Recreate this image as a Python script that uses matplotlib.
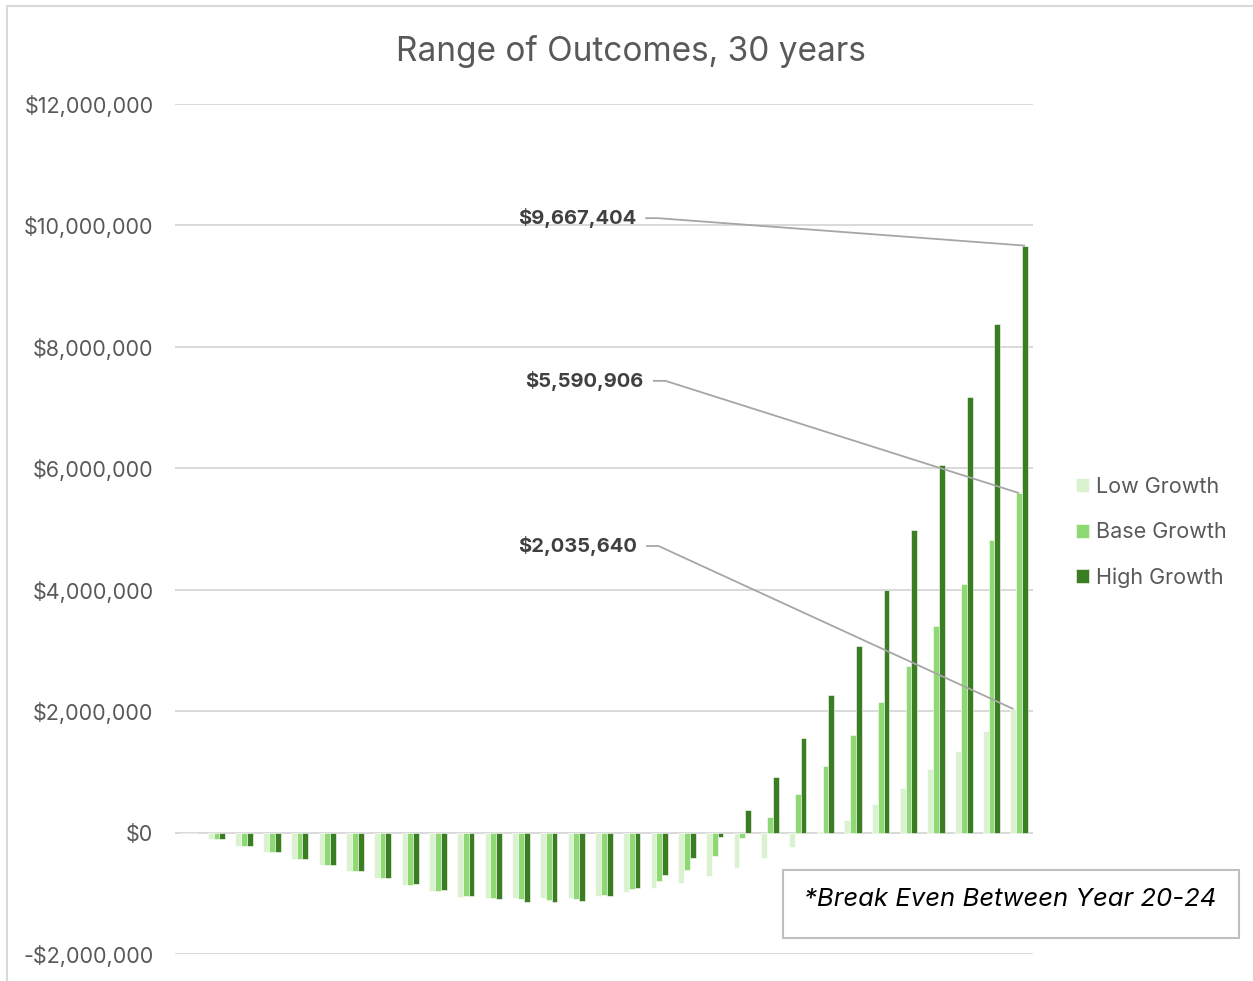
import matplotlib.pyplot as plt
import numpy as np
from matplotlib.patches import Rectangle
from matplotlib.ticker import FuncFormatter

plt.rcParams['font.family'] = ['Inter', 'DejaVu Sans']

# Year 0..30 cumulative outcome, three growth scenarios
years = list(range(31))
low_growth = [
    0, -110_000, -220_000, -320_000, -430_000, -530_000, -640_000, -750_000,
    -860_000, -960_000, -1_060_000, -1_076_000, -1_080_000, -1_080_000,
    -1_070_000, -1_040_000, -980_000, -920_000, -830_000, -720_000,
    -585_000, -420_000, -230_000, 15_000, 210_000, 470_000, 740_000,
    1_040_000, 1_350_000, 1_680_000, 2_035_640,
]
base_growth = [
    0, -110_000, -220_000, -320_000, -430_000, -530_000, -640_000, -750_000,
    -860_000, -960_000, -1_050_000, -1_076_000, -1_100_000, -1_110_000,
    -1_090_000, -1_030_000, -930_000, -800_000, -615_000, -380_000,
    -92_000, 250_000, 640_000, 1_090_000, 1_600_000, 2_150_000, 2_750_000,
    3_400_000, 4_090_000, 4_820_000, 5_590_906,
]
high_growth = [
    -10_000, -110_000, -220_000, -320_000, -430_000, -530_000, -640_000,
    -750_000, -855_000, -950_000, -1_040_000, -1_087_000, -1_136_000,
    -1_150_000, -1_120_000, -1_040_000, -905_000, -700_000, -420_000,
    -66_000, 380_000, 920_000, 1_550_000, 2_270_000, 3_080_000, 3_990_000,
    4_980_000, 6_050_000, 7_180_000, 8_380_000, 9_667_404,
]
series_names = ['Low Growth', 'Base Growth', 'High Growth']
colors = ['#DAF2D0', '#8ED973', '#3A7D22']

W, H = 1253, 981
fig = plt.figure(figsize=(W / 100, H / 100), dpi=100)
ax = fig.add_axes([175 / W, 1 - 954 / H, (1033 - 175) / W, (954 - 104) / H])

x = np.arange(len(years))
bw = 0.21
series = [low_growth, base_growth, high_growth]
for i, (vals, name, c) in enumerate(zip(series, series_names, colors)):
    ax.bar(x + (i - 1) * bw, vals, width=bw, color=c, edgecolor='white',
           linewidth=0.4, label=name, zorder=3)

ax.set_xlim(-0.5, len(years) - 0.5)
ax.set_ylim(-2_000_000, 12_000_000)
ax.set_yticks(np.arange(-2_000_000, 12_000_001, 2_000_000))
ax.yaxis.set_major_formatter(FuncFormatter(
    lambda v, _: f"-${abs(v):,.0f}" if v < 0 else f"${v:,.0f}"))
ax.tick_params(axis='y', length=0, pad=15.5, labelsize=15.5,
               labelcolor='#595959')
ax.set_xticks([])
ax.grid(axis='y', color='#D9D9D9', linewidth=1.4, zorder=0)
for s in ax.spines.values():
    s.set_visible(False)

# data labels on the final year with leader lines
last = len(years) - 1
labels = [
    (high_growth[last], last + bw, 16.16, 10_120_000),
    (base_growth[last], last, 16.44, 7_440_000),
    (low_growth[last], last - bw, 16.19, 4_720_000),
]
for val, bx, tx, ty in labels:
    ax.text(tx, ty, f"${val:,.0f}", ha='right', va='center', fontsize=14.5,
            fontweight='bold', color='#404040')
    ax.plot([tx + 0.33, tx + 0.78, bx], [ty, ty, val], color='#A6A6A6',
            linewidth=1.3, zorder=4, solid_capstyle='butt')

fig.text(631 / W, 1 - 52 / H, 'Range of Outcomes, 30 years', ha='center',
         va='center', fontsize=24, color='#595959')

fig.legend(loc='upper left', bbox_to_anchor=(1076 / W, 1 - 477 / H),
           frameon=False, fontsize=15.5, labelcolor='#595959',
           borderpad=0, borderaxespad=0,
           handlelength=0.62, handleheight=0.62, handletextpad=0.3,
           labelspacing=1.17)

# note box
fig.patches.append(Rectangle((783 / W, 1 - 938 / H), (1239 - 783) / W,
                             68 / H, transform=fig.transFigure,
                             facecolor='white', edgecolor='#BFBFBF',
                             linewidth=1.5))
fig.text(1010 / W, 1 - 899 / H, '*Break Even Between Year 20-24',
         ha='center', va='center', fontsize=18.5, style='italic',
         color='black')

# chart frame
fig.patches.append(Rectangle((7 / W, -0.05), 1.1, 1.05 - 6 / H,
                             transform=fig.transFigure, facecolor='none',
                             edgecolor='#D9D9D9', linewidth=1.5))

fig.savefig('out.png', dpi=100)
